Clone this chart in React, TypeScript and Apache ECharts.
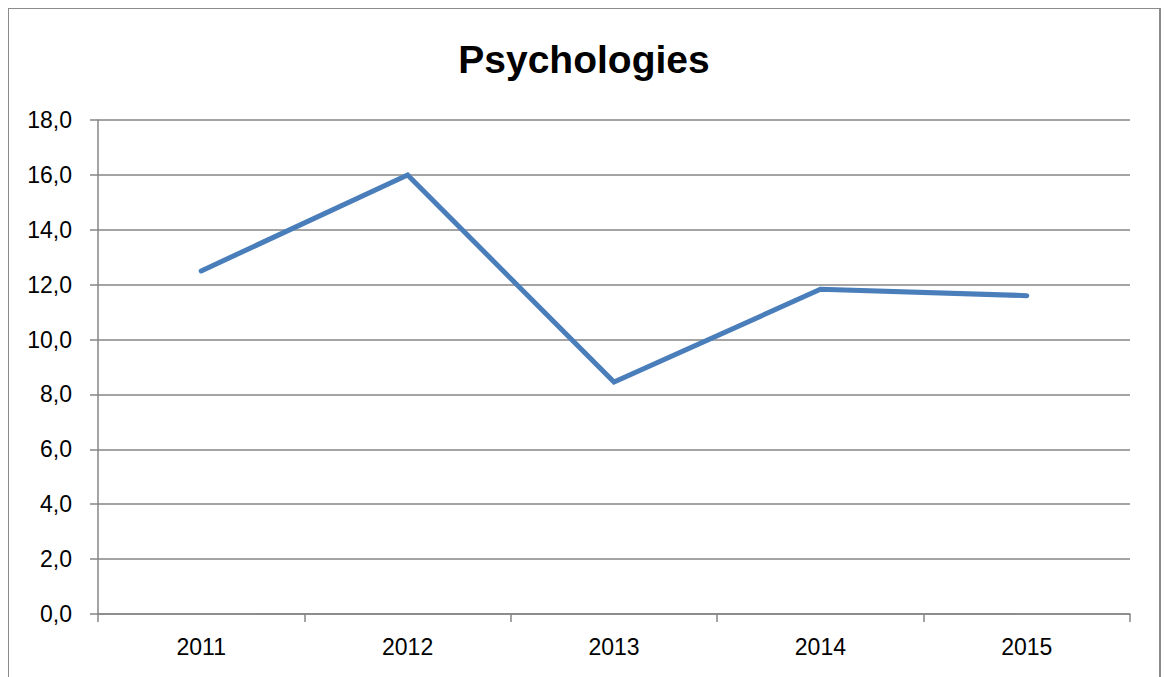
import React, { useEffect, useRef } from "react";
import * as echarts from "echarts";

const titleText = "Psychologies";
const years = ["2011", "2012", "2013", "2014", "2015"];
const values = [12.5, 16.0, 8.45, 11.83, 11.6];
const yMin = 0;
const yMax = 18;
const yStep = 2;

export default function App() {
  const ref = useRef<HTMLDivElement>(null);
  useEffect(() => {
    if (!ref.current) return;
    const chart = echarts.init(ref.current, null, { renderer: "svg" });
    const gray = "#868686";
    chart.setOption({
      animation: false,
      backgroundColor: "#ffffff",
      title: {
        text: titleText,
        left: "center",
        top: 26,
        textStyle: {
          fontFamily: "'Liberation Sans', Arial, sans-serif",
          fontWeight: "bold",
          fontSize: 39,
          color: "#000000",
        },
      },
      grid: { left: 89, right: 29, top: 111, bottom: 93, containLabel: false },
      xAxis: {
        type: "category",
        data: years,
        boundaryGap: true,
        axisLine: { show: true, lineStyle: { color: gray, width: 1.5 } },
        axisTick: { show: true, length: 8, lineStyle: { color: gray, width: 1.5 } },
        axisLabel: {
          color: "#000000",
          fontSize: 23,
          fontFamily: "'Liberation Sans', Arial, sans-serif",
          margin: 21,
        },
        splitLine: { show: false },
      },
      yAxis: {
        type: "value",
        min: yMin,
        max: yMax,
        interval: yStep,
        axisLine: { show: true, lineStyle: { color: gray, width: 1.5 } },
        axisTick: { show: true, length: 8, lineStyle: { color: gray, width: 1.5 } },
        axisLabel: {
          color: "#000000",
          fontSize: 23,
          fontFamily: "'Liberation Sans', Arial, sans-serif",
          margin: 26,
          formatter: (v: number) => v.toFixed(1).replace(".", ","),
        },
        splitLine: { show: true, lineStyle: { color: gray, width: 1.5 } },
      },
      series: [
        {
          type: "line",
          data: values,
          symbol: "none",
          lineStyle: { color: "#4A7EBB", width: 5, cap: "round", join: "miter" },
        },
      ],
    });
    return () => chart.dispose();
  }, []);
  return (
    <div
      ref={ref}
      style={{
        width: 1153,
        height: 700,
        boxSizing: "border-box",
        border: "1px solid #8c8c8c",
        borderRightWidth: 2,
      }}
    />
  );
}
